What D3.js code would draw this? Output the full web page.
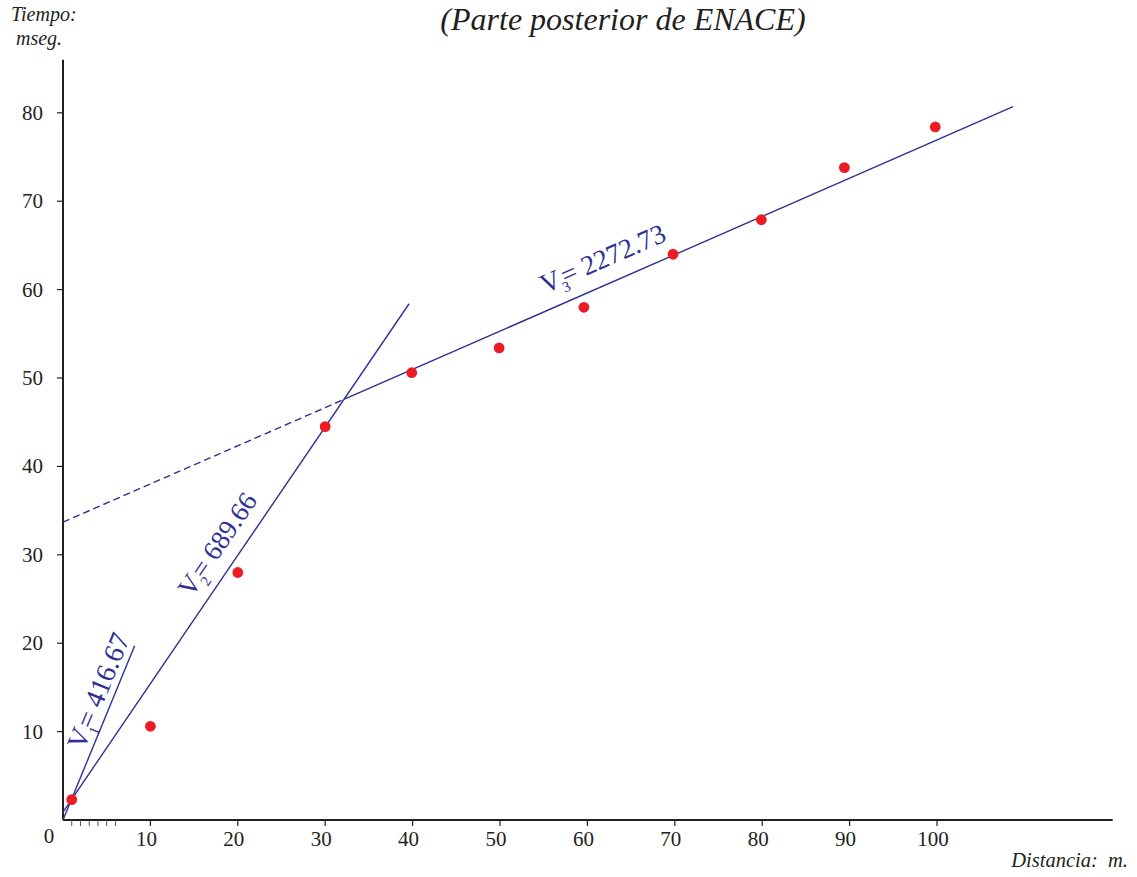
<!DOCTYPE html>
<html>
<head>
<meta charset="utf-8">
<script src="https://cdn.jsdelivr.net/npm/d3@7"></script>
<style>
  body { margin: 0; background: #fff; }
  svg { display: block; font-family: "Liberation Serif", "DejaVu Serif", serif; }
</style>
</head>
<body>
<svg id="chart"></svg>
<script>
// values
const distances = [1, 10, 20, 30, 39.9, 49.9, 59.6, 69.8, 79.9, 89.4, 99.8];
const times = [2.3, 10.6, 28.0, 44.5, 50.6, 53.4, 58.0, 64.0, 67.9, 73.8, 78.4];

const xTicks = [0, 10, 20, 30, 40, 50, 60, 70, 80, 90, 100];
const xMinorTicks = [1, 2, 3, 4, 5, 6];
const yTicks = [10, 20, 30, 40, 50, 60, 70, 80];

// fitted lines: [x0, t0, x1, t1]
const lineV1 = [0, 0, 8.2, 19.7];
const lineV2 = [0, 0.9, 39.6, 58.4];
const lineV3dashed = [0, 33.7, 32.2, 47.6];
const lineV3 = [32.2, 47.6, 108.7, 80.7];

const velocityNames = ["1", "2", "3"];
const velocityValues = ["416.67", "689.66", "2272.73"];

const width = 1137;
const height = 877;
const blue = "#2e3192";
const red = "#ed1c24";

const svg = d3.select("#chart")
    .attr("width", width)
    .attr("height", height);

const x = d3.scaleLinear().domain([0, 120.1]).range([63, 63 + 120.1 * 8.74]);
const y = d3.scaleLinear().domain([0, 86]).range([820, 820 - 86 * 8.84]);

// axes
svg.append("line")
    .attr("x1", x(0)).attr("x2", x(120.1))
    .attr("y1", y(0)).attr("y2", y(0))
    .attr("stroke", "#231f20").attr("stroke-width", 2);

svg.append("line")
    .attr("x1", x(0)).attr("x2", x(0))
    .attr("y1", y(0)).attr("y2", y(86))
    .attr("stroke", "#231f20").attr("stroke-width", 2);

svg.selectAll(".xtick")
    .data(xTicks.filter(d => d > 0))
    .enter().append("line")
    .attr("x1", d => x(d)).attr("x2", d => x(d))
    .attr("y1", y(0)).attr("y2", y(0) + 6)
    .attr("stroke", "#231f20").attr("stroke-width", 1.2);

svg.selectAll(".xminor")
    .data(xMinorTicks)
    .enter().append("line")
    .attr("x1", d => x(d)).attr("x2", d => x(d))
    .attr("y1", y(0)).attr("y2", y(0) + 6)
    .attr("stroke", "#555").attr("stroke-width", 1);

svg.selectAll(".xlabel")
    .data(xTicks)
    .enter().append("text")
    .attr("x", d => d === 0 ? x(d) - 14 : x(d) - 4)
    .attr("y", d => d === 0 ? y(0) + 23 : y(0) + 26)
    .attr("text-anchor", "middle")
    .attr("font-size", 21)
    .attr("fill", "#231f20")
    .text(d => d);

svg.selectAll(".ytick")
    .data(yTicks)
    .enter().append("line")
    .attr("x1", x(0) - 6).attr("x2", x(0))
    .attr("y1", d => y(d)).attr("y2", d => y(d))
    .attr("stroke", "#231f20").attr("stroke-width", 1.2);

svg.selectAll(".ylabel")
    .data(yTicks)
    .enter().append("text")
    .attr("x", x(0) - 20)
    .attr("y", d => y(d) + 7)
    .attr("text-anchor", "end")
    .attr("font-size", 21)
    .attr("fill", "#231f20")
    .text(d => d);

// axis titles
svg.append("text")
    .attr("x", 11).attr("y", 21)
    .attr("font-size", 20).attr("font-style", "italic")
    .attr("fill", "#231f20")
    .text("Tiempo:");
svg.append("text")
    .attr("x", 16).attr("y", 45)
    .attr("font-size", 20).attr("font-style", "italic")
    .attr("fill", "#231f20")
    .text("mseg.");
svg.append("text")
    .attr("x", 1128).attr("y", 867)
    .attr("text-anchor", "end")
    .attr("font-size", 20.5).attr("font-style", "italic")
    .attr("fill", "#231f20")
    .attr("xml:space", "preserve")
    .text("Distancia:  m.");

svg.append("text")
    .attr("x", 623).attr("y", 30)
    .attr("text-anchor", "middle")
    .attr("font-size", 32).attr("font-style", "italic")
    .attr("fill", "#231f20")
    .text("(Parte posterior de ENACE)");

// fitted lines
const seg = (l, dashed) => svg.append("line")
    .attr("x1", x(l[0])).attr("y1", y(l[1]))
    .attr("x2", x(l[2])).attr("y2", y(l[3]))
    .attr("stroke", blue).attr("stroke-width", 1.4)
    .attr("stroke-dasharray", dashed ? "7,4" : null);

seg(lineV1);
seg(lineV2);
seg(lineV3dashed, true);
seg(lineV3);

// velocity labels along the lines
const labelLines = [lineV1, lineV2, [lineV3dashed[0], lineV3dashed[1], lineV3[2], lineV3[3]]];
const labelFrac = [0.38, 0.405, 0.514];
const labelOffset = [7, 14, 16];
const labelSize = [28, 27, 27.5];

labelLines.forEach((l, i) => {
    const px0 = x(l[0]), py0 = y(l[1]), px1 = x(l[2]), py1 = y(l[3]);
    const ang = Math.atan2(py1 - py0, px1 - px0) * 180 / Math.PI;
    const px = px0 + (px1 - px0) * labelFrac[i];
    const py = py0 + (py1 - py0) * labelFrac[i];
    const t = svg.append("text")
        .attr("transform", `translate(${px},${py}) rotate(${ang})`)
        .attr("y", -labelOffset[i])
        .attr("font-size", labelSize[i])
        .attr("fill", blue);
    t.append("tspan").text("V");
    t.append("tspan").attr("font-size", 15).attr("dy", 7).attr("dx", -1).text(velocityNames[i]);
    t.append("tspan").attr("dy", -7).attr("dx", -4).text("= " + velocityValues[i]);
});

// data points
svg.selectAll(".pt")
    .data(distances)
    .enter().append("circle")
    .attr("cx", d => x(d))
    .attr("cy", (d, i) => y(times[i]))
    .attr("r", 5.4)
    .attr("fill", red);
</script>
</body>
</html>
